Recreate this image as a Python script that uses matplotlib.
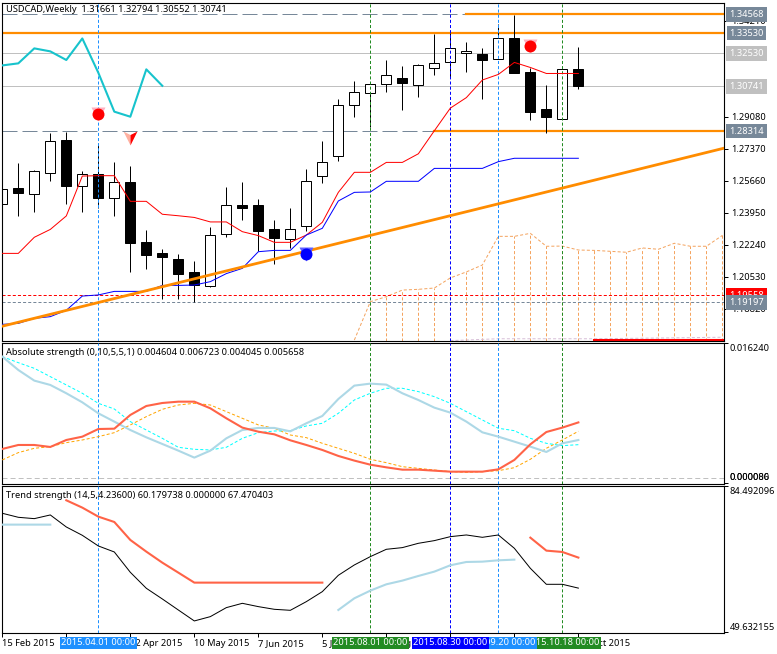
import numpy as np
import matplotlib
matplotlib.use('Agg')
import matplotlib.pyplot as plt

plt.rcParams['font.family'] = ['Noto Sans', 'DejaVu Sans']
plt.rcParams['lines.scale_dashes'] = False
plt.rcParams['axes.linewidth'] = 0.8

# weekly candles, index 0 is the week of 15 Feb 2015
opens = [1.2441, 1.2526, 1.2494, 1.2610, 1.2784, 1.2537, 1.2603, 1.2477, 1.2560, 1.2238, 1.2181, 1.2149, 1.2080,
         1.2007, 1.2281, 1.2437, 1.2437, 1.2309, 1.2254, 1.2327, 1.2590, 1.2697, 1.2970, 1.3034, 1.3082, 1.3116,
         1.3080, 1.3171, 1.3203, 1.3247, 1.3244, 1.3215, 1.3327, 1.3148, 1.2950, 1.2898, 1.31661]
highs = [1.2606, 1.2660, 1.2624, 1.2824, 1.2827, 1.2619, 1.2767, 1.2667, 1.2646, 1.2304, 1.2202, 1.2176, 1.2138,
         1.2320, 1.2533, 1.2560, 1.2469, 1.2357, 1.2421, 1.2630, 1.2779, 1.3003, 1.3100, 1.3082, 1.3212, 1.3180,
         1.3190, 1.3350, 1.3354, 1.3308, 1.3274, 1.3404, 1.3452, 1.3167, 1.3078, 1.3162, 1.32794]
lows = [1.2441, 1.2379, 1.2400, 1.2566, 1.2443, 1.2400, 1.2420, 1.2379, 1.2080, 1.2096, 1.1935, 1.1935, 1.1918,
        1.1999, 1.2268, 1.2357, 1.2192, 1.2122, 1.2206, 1.2298, 1.2555, 1.2672, 1.2907, 1.2856, 1.3041, 1.2945,
        1.3014, 1.3132, 1.3114, 1.3148, 1.3003, 1.3215, 1.3144, 1.2891, 1.2824, 1.2898, 1.30552]
closes = [1.2524, 1.2503, 1.2617, 1.2777, 1.2541, 1.2601, 1.2477, 1.2558, 1.2236, 1.2172, 1.2161, 1.2071, 1.2010,
          1.2275, 1.2436, 1.2423, 1.2300, 1.2263, 1.2307, 1.2564, 1.2665, 1.2970, 1.3039, 1.3082, 1.3130, 1.3091,
          1.3183, 1.3194, 1.3274, 1.3258, 1.3212, 1.3327, 1.3144, 1.2936, 1.2909, 1.3162, 1.30741]

tenkan = [1.2179, 1.2179, 1.2265, 1.2307, 1.2379, 1.2592, 1.2594, 1.2594, 1.2457, 1.2457, 1.2388, 1.2380, 1.2371,
          1.2347, 1.2347, 1.2295, 1.2274, 1.2238, 1.2238, 1.2277, 1.2345, 1.2505, 1.2612, 1.2612, 1.2665, 1.2665,
          1.2711, 1.2834, 1.2955, 1.3011, 1.3105, 1.3135, 1.3199, 1.3172, 1.3140, 1.3140, 1.3140]
kijun = [1.1800, 1.1805, 1.1832, 1.1841, 1.1875, 1.1951, 1.1957, 1.1976, 1.1976, 1.1976, 1.2008, 1.2008, 1.2010,
         1.2028, 1.2071, 1.2099, 1.2188, 1.2195, 1.2195, 1.2277, 1.2313, 1.2459, 1.2505, 1.2507, 1.2564, 1.2564,
         1.2564, 1.2633, 1.2633, 1.2633, 1.2633, 1.2669, 1.2687, 1.2687, 1.2687, 1.2687, 1.2687]

# cloud
span_a_x = list(range(22, 46))
span_a = [1.1716, 1.1921, 1.1948, 1.1983, 1.1987, 1.1994, 1.2048, 1.2080, 1.2117, 1.2270, 1.2270, 1.2286, 1.2217,
          1.2218, 1.2197, 1.2195, 1.2190, 1.2185, 1.2208, 1.2201, 1.2233, 1.2217, 1.2217, 1.2275]
span_b_x = [28, 31, 37, 45]
span_b = [1.1713, 1.1723, 1.1723, 1.1731]

trend_x = [-0.1, 45.2]
trend_y = [1.1788, 1.2743]

# levels as they sit on the picture, labels as printed
level_vals = [1.34555, 1.3356, 1.3247, 1.3071, 1.2832, 1.1955, 1.1917]
level_text = ['1.34568', '1.33530', '1.32530', '1.30741', '1.28314', '1.19558', '1.19197']
level_bg = ['#778899', '#778899', '#c0c0c0', '#c0c0c0', '#778899', '#ff0000', '#778899']
orange_from = {0: 29, 4: 27}

price_ticks = [1.3421, 1.2908, 1.2737, 1.2566, 1.2395, 1.2224, 1.2053, 1.1882]
price_tick_text = ['1.34210', '1.29080', '1.27370', '1.25660', '1.23950', '1.22240', '1.20530', '1.18820']

vline_x = [6, 23, 28, 31, 35]
vline_col = ['#1e90ff', '#228b22', '#0000ff', '#1e90ff', '#228b22']

# Absolute strength
abs_bulls = [14.64, 13.03, 11.75, 11.23, 10.23, 9.14, 7.82, 6.82, 5.81, 4.93, 4.13, 3.33, 2.49, 3.33, 4.81, 5.81,
             6.06, 6.06, 5.65, 6.62, 7.50, 9.54, 11.15, 11.39, 11.27, 10.23, 9.42, 8.50, 7.90, 6.82, 5.53, 5.01,
             4.41, 3.81, 3.17, 4.21, 4.604]
abs_bears = [3.53, 4.01, 4.01, 3.77, 4.61, 5.01, 5.93, 5.97, 7.62, 8.70, 9.06, 9.22, 9.22, 8.42, 7.22, 6.10, 5.61,
             5.29, 4.57, 4.01, 3.41, 2.69, 2.13, 1.64, 1.32, 1.04, 1.04, 0.92, 0.80, 0.80, 0.80, 1.08, 2.21, 4.09,
             5.57, 6.10, 6.723]
abs_bulls_sig = [14.64, 13.91, 13.23, 12.23, 11.23, 10.23, 9.02, 8.34, 6.82, 5.81, 4.81, 3.73, 3.49, 3.41, 3.73,
                 4.81, 5.49, 5.69, 5.73, 6.30, 6.62, 7.82, 9.42, 10.23, 10.83, 10.83, 10.43, 9.82, 9.02, 8.02,
                 7.02, 6.02, 5.73, 4.81, 4.21, 3.93, 4.045]
abs_bears_sig = [2.21, 3.09, 3.61, 3.81, 4.29, 4.61, 5.01, 5.49, 6.42, 7.42, 8.30, 8.82, 9.02, 8.82, 8.02, 7.22,
                 6.42, 6.02, 5.21, 4.89, 4.21, 3.61, 3.01, 2.29, 1.88, 1.40, 1.20, 1.00, 0.80, 0.72, 0.80, 0.92,
                 1.28, 2.29, 3.61, 4.61, 5.658]

# Trend strength
trend_main = [78.05, 77.09, 76.77, 77.65, 74.78, 72.79, 70.25, 68.81, 63.96, 60.14, 57.59, 54.96, 52.34, 53.37,
              55.52, 56.55, 55.76, 55.12, 54.88, 56.95, 59.34, 63.24, 65.71, 67.70, 69.45, 69.85, 70.88, 71.52,
              72.47, 72.87, 72.31, 72.87, 69.69, 64.91, 61.09, 61.09, 60.18]
trend_up_x = [0, 1, 2, 3, None, 21, 22, 23, 24, 25, 26, 27, 28, 29, 30, 31, 32]
trend_up = [75.34, 75.34, 75.34, 75.34, None, 54.96, 57.75, 59.58, 61.09, 61.97, 63.08, 64.12, 65.63, 66.42, 66.50,
            66.82, 66.98]
trend_dn_x = [4, 5, 6, 7, 8, 9, 10, 11, 12, 13, 14, 15, 16, 17, 18, 19, 20, None, 33, 34, 35, 36]
trend_dn = [81.15, 79.40, 77.25, 75.97, 71.68, 68.89, 66.26, 63.88, 61.49, 61.49, 61.49, 61.49, 61.49, 61.49, 61.49,
            61.49, 61.49, None, 72.23, 69.13, 68.81, 67.47]

week_ticks = [0, 4, 8, 12, 16, 20, 24, 28, 32, 36]
week_text = ['15 Feb 2015', '15 Mar 2015', '12 Apr 2015', '10 May 2015', '7 Jun 2015', '5 Jul 2015', '2 Aug 2015',
             '30 Aug 2015', '27 Sep 2015', '25 Oct 2015']

# drawn oldest label first so the later ones cover it like in the terminal
date_x = [23, 35, 31, 6, 28]
date_text = ['2015.08.01 00:00', '2015.10.18 00:00', '2015.09.20 00:00', '2015.04.01 00:00', '2015.08.30 00:00']
date_bg = ['#228b22', '#228b22', '#1e90ff', '#1e90ff', '#0000ff']

W, H = 777, 654
PX = 0.72
FS = 6.7


def panel(top, bottom):
    return fig.add_axes([2.3 / W, 1 - bottom / H, (724.3 - 2.3) / W, (bottom - top) / H])


def to_float(vals):
    return [np.nan if v is None else v for v in vals]


fig = plt.figure(figsize=(W / 100, H / 100), dpi=100)
ax1 = panel(2.7, 341)
ax2 = panel(343.3, 484.3)
ax3 = panel(486.3, 633.3)

bars = np.arange(len(closes))
for ax in (ax1, ax2, ax3):
    ax.set_xlim(0, 45.12)
    ax.tick_params(axis='x', bottom=False, labelbottom=False)
    ax.yaxis.tick_right()
    ax.tick_params(axis='y', length=3, width=PX, labelsize=FS, pad=2)
    for x, c in zip(vline_x, vline_col):
        ax.axvline(x, color=c, lw=PX, ls=(0, (2.2, 1.5)), zorder=3)

# main chart
ax1.set_ylim(1.1711, 1.3518)
ax1.set_yticks(price_ticks)
ax1.set_yticklabels(price_tick_text)

ax1.vlines(span_a_x[1:], 1.1711, span_a[1:], color='#f4a460', lw=PX, ls=(0, (2.2, 1.5)), zorder=1)
ax1.plot(span_a_x, span_a, color='#f4a460', lw=PX, ls=(0, (2.2, 1.5)), zorder=1)
ax1.plot(span_b_x, span_b, color='#d8bfd8', lw=PX, ls=(0, (2.2, 1.5)), zorder=1)
ax1.plot([37, 45.1], [1.1715, 1.1715], color='red', lw=1.5, zorder=1)

for i, lv in enumerate(level_vals):
    if lv in (level_vals[2], level_vals[3]):
        ax1.axhline(lv, color='#c0c0c0', lw=PX, zorder=1)
    elif i == 1:
        ax1.axhline(lv, color='#ff8c00', lw=1.6, zorder=2)
    elif i == 5:
        ax1.axhline(lv, color='#ff0000', lw=PX, ls=(0, (2.2, 1.5)), zorder=1)
    elif i == 6:
        ax1.axhline(lv, color='#778899', lw=PX, ls=(0, (2.2, 1.5)), zorder=1)
    else:
        ax1.axhline(lv, color='#778899', lw=PX, ls=(0, (10.8, 3.6)), zorder=1)
        ax1.plot([orange_from[i], 45.2], [lv, lv], color='#ff8c00', lw=1.6, zorder=2)

ax1.vlines(bars, lows, highs, color='black', lw=PX, zorder=2.2)
body_low = np.minimum(opens, closes)
body_h = np.abs(np.array(closes) - np.array(opens))
fills = ['white' if c > o else 'black' for o, c in zip(opens, closes)]
ax1.bar(bars, body_h, 0.625, bottom=body_low, color=fills, edgecolor='black', linewidth=PX, zorder=2.5)

ax1.plot(bars, tenkan, color='#ff0000', lw=PX, zorder=4)
ax1.plot(bars, kijun, color='#0000ff', lw=PX, zorder=4)
# lagging span is just the close moved back 26 weeks
ax1.plot(bars[:11], closes[26:], color='#17c3cc', lw=1.5, zorder=4)
ax1.plot(trend_x, trend_y, color='#ff8c00', lw=2.0, zorder=5)

ax1.plot([6, 33], [1.2923, 1.3286], 'v', color='#ffb0c0', ms=10, mec='none', zorder=6)
ax1.plot([6, 33], [1.2923, 1.3286], 'o', color='#ff0000', ms=8.6, mec='none', zorder=6)
ax1.plot([19], [1.2176], 'v', color='#6060ff', ms=10, mec='none', zorder=6)
ax1.plot([19], [1.2176], 'o', color='#0000ff', ms=8.6, mec='none', zorder=6)
ax1.plot([8], [1.2793], marker=[(-1, 1), (0, 0.5), (0, -1)], color='#ffb0a0', ms=10, mec='none', zorder=6)
ax1.plot([8], [1.2793], marker=[(1, 1), (0, 0.5), (0, -1)], color='#ff0000', ms=10, mec='none', zorder=6)

# absolute strength
ax2.set_ylim(-0.00072, 0.01624)
ax2.set_yticks([0.01624, -0.0006])
ax2.set_yticklabels([])
ax2.axhline(0, color='#c0c0c0', lw=PX, ls=(0, (3.6, 2.2)), zorder=1)
ax2.plot(bars, np.array(abs_bears_sig) / 1000, color='#ffa500', lw=PX, ls=(0, (2.2, 1.5)), zorder=4)
ax2.plot(bars, np.array(abs_bulls_sig) / 1000, color='#00ffff', lw=PX, ls=(0, (2.2, 1.5)), zorder=4)
ax2.plot(bars, np.array(abs_bulls) / 1000, color='#add8e6', lw=1.5, zorder=5)
ax2.plot(bars, np.array(abs_bears) / 1000, color='#ff6347', lw=1.5, zorder=5)

# trend strength
ax3.set_ylim(49.39, 84.492)
ax3.set_yticks([84.492, 49.63])
ax3.set_yticklabels([])
ax3.plot(bars, trend_main, color='black', lw=PX, zorder=4)
ax3.plot(to_float(trend_up_x), to_float(trend_up), color='#add8e6', lw=1.5, zorder=5)
ax3.plot(to_float(trend_dn_x), to_float(trend_dn), color='#ff6347', lw=1.5, zorder=5)

ax3.tick_params(axis='x', bottom=True, labelbottom=True, length=3, width=PX, labelsize=FS, pad=1)
ax3.set_xticks(week_ticks)
ax3.set_xticklabels(week_text, ha='left')

date_tr = ax3.get_xaxis_transform()
for n, (x, t, c) in enumerate(zip(date_x, date_text, date_bg)):
    ax3.text(x, -0.064, t, transform=date_tr, color='white', fontsize=FS, ha='center', va='center', clip_on=False,
             zorder=10 + n, bbox=dict(fc=c, ec='none', pad=1.0))

# titles
fig.text(6 / W, 1 - 9.5 / H, 'USDCAD,Weekly  1.31661 1.32794 1.30552 1.30741', fontsize=FS, va='center')
fig.text(6 / W, 1 - 352.5 / H, 'Absolute strength (0,10,5,5,1) 0.004604 0.006723 0.004045 0.005658', fontsize=FS,
         va='center')
fig.text(6 / W, 1 - 495.5 / H, 'Trend strength (14,5,4.23600) 60.179738 0.000000 67.470403', fontsize=FS, va='center')

# price tags on the right
for n, (lv, t, c) in enumerate(zip(level_vals, level_text, level_bg)):
    y = ax1.transData.transform((0, lv))[1] / H
    fig.text(746.5 / W, y, t, color='white', fontsize=FS, ha='center', va='center', zorder=10 + n,
             bbox=dict(fc=c, ec='none', pad=2.0))

fig.text(730 / W, 1 - 348.3 / H, '0.016240', fontsize=FS, va='center')
fig.text(730 / W, 1 - 478 / H, '0.000086', fontsize=FS, va='center')
fig.text(730 / W, 1 - 478 / H, '0.000000', fontsize=FS, va='center')
fig.text(730 / W, 1 - 491.7 / H, '84.492096', fontsize=FS, va='center')
fig.text(730 / W, 1 - 627.3 / H, '49.632155', fontsize=FS, va='center')

fig.savefig('out.png', dpi=100)
